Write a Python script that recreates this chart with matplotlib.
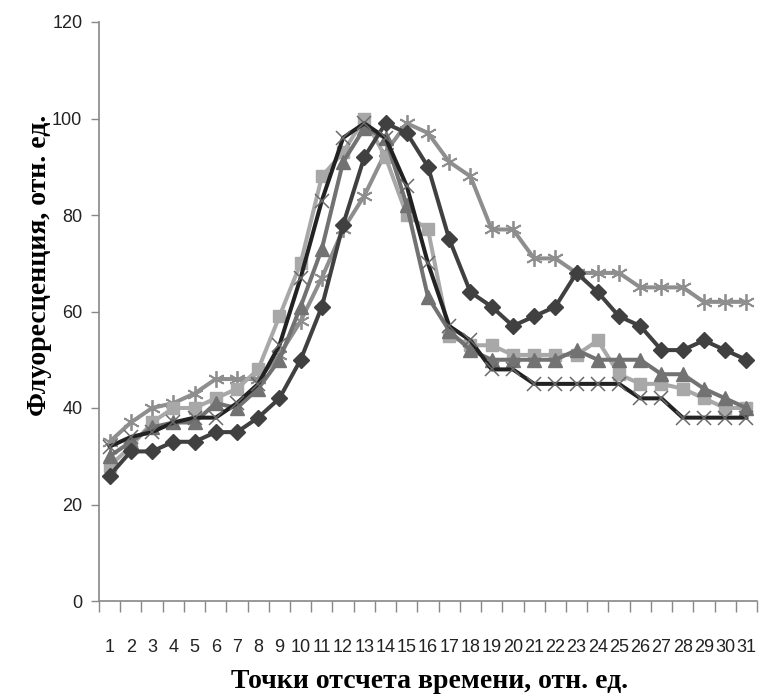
import matplotlib
matplotlib.use('Agg')
import matplotlib.pyplot as plt

points = list(range(1, 32))
tick_labels = [str(p) for p in points]

diamond = [26, 31, 31, 33, 33, 35, 35, 38, 42, 50, 61, 78, 92, 99, 97, 90, 75, 64, 61, 57,
           59, 61, 68, 64, 59, 57, 52, 52, 54, 52, 50]
square = [28, 32, 37, 40, 40, 42, 44, 48, 59, 70, 88, 93, 100, 92, 80, 77, 55, 53, 53, 51,
          51, 51, 51, 54, 47, 45, 45, 44, 42, 40, 40]
triangle = [30, 33, 36, 37, 37, 41, 40, 44, 50, 61, 73, 91, 98, 96, 82, 63, 56, 52, 50, 50,
            50, 50, 52, 50, 50, 50, 47, 47, 44, 42, 40]
cross = [32, 34, 35, 37, 38, 38, 41, 45, 53, 67, 83, 96, 99, 96, 86, 70, 57, 54, 48, 48,
         45, 45, 45, 45, 45, 42, 42, 38, 38, 38, 38]
star = [33, 37, 40, 41, 43, 46, 46, 46, 51, 58, 67, 77, 84, 93, 99, 97, 91, 88, 77, 77,
        71, 71, 68, 68, 68, 65, 65, 65, 62, 62, 62]

fig = plt.figure(figsize=(7.6, 7.0), dpi=100)
ax = fig.add_axes([99 / 760, 99 / 700, 658 / 760, 579 / 700])

lw = 2.9
ax.plot(points, star, color='#8e8e8e', lw=lw, marker=(6, 2, 0), ms=12, mew=1.3,
        mec='#8e8e8e', zorder=2)
ax.plot(points, square, color='#a8a8a8', lw=lw, marker='s', ms=9, zorder=3)
ax.plot(points, triangle, color='#727272', lw=lw, marker='^', ms=10, zorder=4)
ax.plot(points, diamond, color='#404040', lw=lw, marker='D', ms=8, zorder=5)
ax.plot(points, cross, color='#222222', lw=lw, marker='x', ms=10, mew=1.1,
        mec='#6a6a6a', zorder=6)

ax.set_xlim(0.5, 31.5)
ax.set_ylim(0, 120)
ax.set_yticks(range(0, 121, 20))
ax.set_xticks(points)
ax.set_xticklabels(tick_labels)
ax.set_xticks([p + 0.5 for p in [0] + points], minor=True)

for s in ['top', 'right']:
    ax.spines[s].set_visible(False)
for s in ['left', 'bottom']:
    ax.spines[s].set_color('#888888')
    ax.spines[s].set_linewidth(1.2)

tick_font = ['Liberation Sans', 'DejaVu Sans']
ax.tick_params(axis='x', which='major', length=0, pad=27)
ax.tick_params(axis='x', which='minor', length=8, width=1, color='#888888', direction='out')
ax.tick_params(axis='y', length=6, width=1, color='#888888', pad=6)
for lab in ax.get_xticklabels() + ax.get_yticklabels():
    lab.set_family(tick_font)
    lab.set_fontsize(13)
    lab.set_color('#222222')

fig.text(40 / 760, 1 - 265 / 700, 'Флуоресценция, отн. ед.', rotation=90,
         ha='center', va='center', fontsize=20, fontweight='bold',
         family=['Liberation Serif', 'DejaVu Serif'])
fig.text(430 / 760, 1 - 682 / 700, 'Точки отсчета времени, отн. ед.',
         ha='center', va='center', fontsize=20, fontweight='bold',
         family=['Liberation Serif', 'DejaVu Serif'])

fig.savefig('out.png', dpi=100)
